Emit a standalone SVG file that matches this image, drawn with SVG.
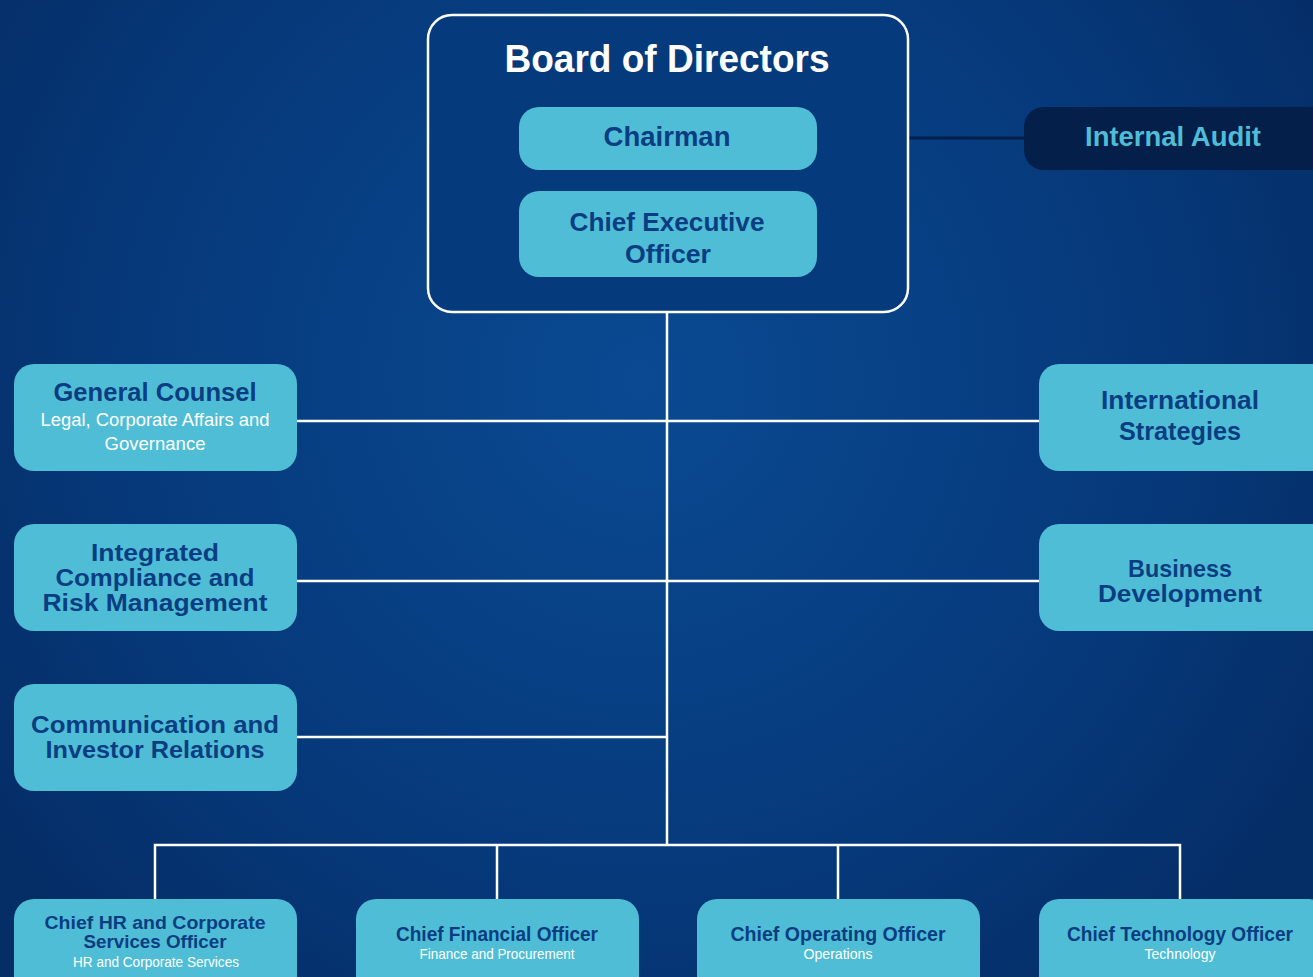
<svg xmlns="http://www.w3.org/2000/svg" width="1313" height="977" viewBox="0 0 1313 977">
<defs>
<radialGradient id="bg" cx="640" cy="380" r="800" gradientUnits="userSpaceOnUse">
<stop offset="0" stop-color="#0a4a92"/>
<stop offset="0.6" stop-color="#063a7c"/>
<stop offset="1" stop-color="#052d66"/>
</radialGradient>
<style>
.box{fill:#4fbdd5;}
.t{font-family:"Liberation Sans",Arial,sans-serif;font-weight:bold;fill:#0b3d82;text-anchor:middle;}
.s{font-family:"Liberation Sans",Arial,sans-serif;fill:#ffffff;text-anchor:middle;}
.ln{stroke:#ffffff;stroke-width:2.5;fill:none;}
</style>
</defs>
<rect width="1313" height="977" fill="url(#bg)"/>

<g id="connectors">
<line x1="908" y1="138" x2="1026" y2="138" stroke="#041f4a" stroke-width="3"/>
<path class="ln" d="M667 312 V845"/>
<path class="ln" d="M297 421 H1040"/>
<path class="ln" d="M297 581 H1040"/>
<path class="ln" d="M297 737 H667"/>
<path class="ln" d="M155 900 V845 H1180 V900 M497 845 V900 M838 845 V900"/>
</g>

<g id="board">
<rect x="428" y="15" width="480" height="297" rx="24" fill="#053a7c" stroke="#ffffff" stroke-width="2.5"/>
<text class="t" x="667" y="72" font-size="38" style="fill:#ffffff" textLength="325" lengthAdjust="spacingAndGlyphs">Board of Directors</text>
</g>

<g id="chairman">
<rect class="box" x="519" y="107" width="298" height="63" rx="20"/>
<text class="t" x="667" y="146" font-size="27" textLength="127" lengthAdjust="spacingAndGlyphs">Chairman</text>
</g>

<g id="ceo">
<rect class="box" x="519" y="191" width="298" height="86" rx="20"/>
<text class="t" x="667" y="231" font-size="26" textLength="195" lengthAdjust="spacingAndGlyphs">Chief Executive</text>
<text class="t" x="668" y="263" font-size="26" textLength="86" lengthAdjust="spacingAndGlyphs">Officer</text>
</g>

<g id="internal-audit">
<rect x="1024" y="107" width="310" height="63" rx="20" fill="#041f4a"/>
<text class="t" x="1173" y="146" font-size="27" style="fill:#4fbdd5" textLength="176" lengthAdjust="spacingAndGlyphs">Internal Audit</text>
</g>

<g id="general-counsel">
<rect class="box" x="14" y="364" width="283" height="107" rx="20"/>
<text class="t" x="155" y="401" font-size="25" textLength="203" lengthAdjust="spacingAndGlyphs">General Counsel</text>
<text class="s" x="155" y="426" font-size="19" textLength="229" lengthAdjust="spacingAndGlyphs">Legal, Corporate Affairs and</text>
<text class="s" x="155" y="450" font-size="19" textLength="101" lengthAdjust="spacingAndGlyphs">Governance</text>
</g>

<g id="international-strategies">
<rect class="box" x="1039" y="364" width="300" height="107" rx="20"/>
<text class="t" x="1180" y="409" font-size="26" textLength="158" lengthAdjust="spacingAndGlyphs">International</text>
<text class="t" x="1180" y="440" font-size="26" textLength="122" lengthAdjust="spacingAndGlyphs">Strategies</text>
</g>

<g id="compliance">
<rect class="box" x="14" y="524" width="283" height="107" rx="20"/>
<text class="t" x="155" y="561" font-size="24" textLength="128" lengthAdjust="spacingAndGlyphs">Integrated</text>
<text class="t" x="155" y="586" font-size="24" textLength="199" lengthAdjust="spacingAndGlyphs">Compliance and</text>
<text class="t" x="155" y="611" font-size="24" textLength="225" lengthAdjust="spacingAndGlyphs">Risk Management</text>
</g>

<g id="business-development">
<rect class="box" x="1039" y="524" width="300" height="107" rx="20"/>
<text class="t" x="1180" y="577" font-size="24" textLength="104" lengthAdjust="spacingAndGlyphs">Business</text>
<text class="t" x="1180" y="602" font-size="24" textLength="164" lengthAdjust="spacingAndGlyphs">Development</text>
</g>

<g id="communication">
<rect class="box" x="14" y="684" width="283" height="107" rx="20"/>
<text class="t" x="155" y="733" font-size="24" textLength="248" lengthAdjust="spacingAndGlyphs">Communication and</text>
<text class="t" x="155" y="758" font-size="24" textLength="219" lengthAdjust="spacingAndGlyphs">Investor Relations</text>
</g>

<g id="chro">
<rect class="box" x="14" y="899" width="283" height="110" rx="20"/>
<text class="t" x="155" y="929" font-size="19" textLength="221" lengthAdjust="spacingAndGlyphs">Chief HR and Corporate</text>
<text class="t" x="155" y="948" font-size="19" textLength="143" lengthAdjust="spacingAndGlyphs">Services Officer</text>
<text class="s" x="156" y="967" font-size="14" textLength="166" lengthAdjust="spacingAndGlyphs">HR and Corporate Services</text>
</g>

<g id="cfo">
<rect class="box" x="356" y="899" width="283" height="110" rx="20"/>
<text class="t" x="497" y="941" font-size="20" textLength="202" lengthAdjust="spacingAndGlyphs">Chief Financial Officer</text>
<text class="s" x="497" y="959" font-size="15" textLength="155" lengthAdjust="spacingAndGlyphs">Finance and Procurement</text>
</g>

<g id="coo">
<rect class="box" x="697" y="899" width="283" height="110" rx="20"/>
<text class="t" x="838" y="941" font-size="20" textLength="215" lengthAdjust="spacingAndGlyphs">Chief Operating Officer</text>
<text class="s" x="838" y="959" font-size="15" textLength="69" lengthAdjust="spacingAndGlyphs">Operations</text>
</g>

<g id="cto">
<rect class="box" x="1039" y="899" width="290" height="110" rx="20"/>
<text class="t" x="1180" y="941" font-size="20" textLength="226" lengthAdjust="spacingAndGlyphs">Chief Technology Officer</text>
<text class="s" x="1180" y="959" font-size="15" textLength="71" lengthAdjust="spacingAndGlyphs">Technology</text>
</g>
</svg>
